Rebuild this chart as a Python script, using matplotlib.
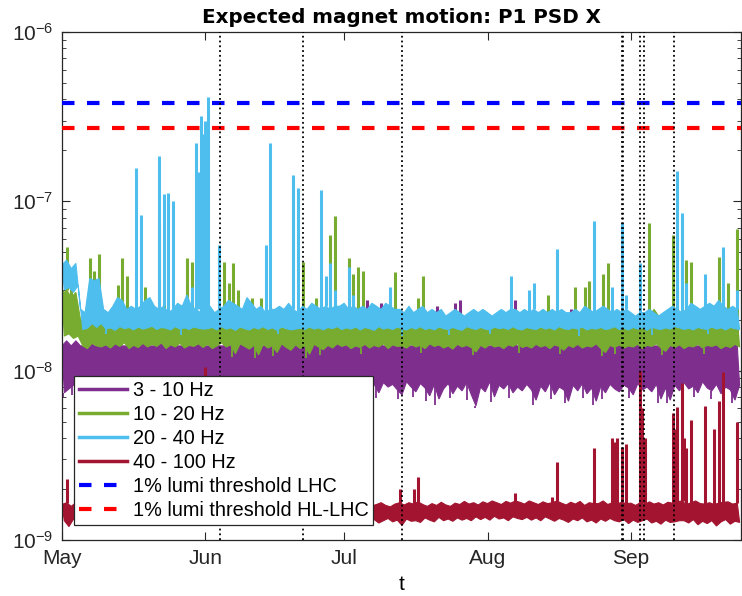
import numpy as np
import matplotlib
matplotlib.use('Agg')
import matplotlib.pyplot as plt
import matplotlib.dates as mdates
from matplotlib.lines import Line2D

plt.rcParams['font.family'] = ['Liberation Sans', 'DejaVu Sans']

# band envelope: daily top (at 00:00) and bottom (at 12:00) values, units of 1e-9
start = np.datetime64('2018-05-01T00:00')
n_days = 147

purple_top = [14, 15, 14, 15, 14, 14, 15, 14, 14, 15,
              14, 14, 15, 14, 14, 15, 14, 14, 15, 14,
              14, 15, 14, 14, 15, 14, 14, 15, 14, 14,
              15, 14, 14, 15, 14, 14, 15, 14, 15, 14,
              14, 14, 15, 14, 14, 15, 14, 14, 15, 14,
              14, 15, 14, 14, 15, 14, 14, 15, 14, 14,
              15, 14, 15, 14, 14, 15, 14, 14, 15, 14,
              14, 15, 14, 14, 15, 14, 14, 15, 14, 14,
              15, 14, 14, 14, 15, 14, 15, 14, 15, 14,
              14, 15, 14, 14, 15, 14, 14, 15, 14, 14,
              15, 14, 14, 15, 14, 14, 15, 14, 14, 15,
              14, 14, 15, 14, 14, 15, 14, 14, 15, 14,
              14, 15, 14, 14, 15, 14, 14, 15, 14, 14,
              15, 14, 14, 15, 14, 14, 15, 14, 14, 15,
              14, 14, 15, 14, 14, 15, 14]
purple_bottom = [7.4, 7.8, 8.2, 9.0, 8.5, 8.8, 8.2, 9.0, 8.6, 8.4,
                 8.8, 7.9, 8.5, 9.1, 8.3, 8.7, 8.0, 8.9, 8.4, 8.8,
                 8.2, 8.6, 9.0, 8.3, 8.7, 8.1, 8.9, 8.5, 8.2, 8.8,
                 8.4, 8.7, 8.1, 8.9, 8.5, 8.3, 8.8, 8.6, 8.0, 8.7,
                 8.5, 8.2, 8.9, 8.4, 8.7, 8.1, 8.6, 8.9, 8.3, 8.5,
                 8.8, 8.2, 8.6, 8.4, 8.9, 8.3, 8.7, 8.1, 8.6, 8.4,
                 8.2, 8.7, 8.0, 8.8, 8.4, 7.6, 8.6, 8.3, 7.4, 8.5,
                 8.0, 8.3, 7.7, 7.2, 8.6, 8.0, 7.5, 8.4, 7.9, 7.1,
                 8.3, 6.8, 7.8, 8.4, 7.3, 8.1, 7.6, 8.5, 7.2, 6.2,
                 8.0, 7.5, 8.6, 7.0, 8.2, 7.8, 8.4, 7.4, 8.0, 7.6,
                 8.3, 7.7, 6.7, 8.1, 7.5, 8.5, 7.2, 8.0, 7.7, 6.6,
                 8.2, 7.6, 8.4, 7.3, 7.9, 6.6, 8.1, 7.4, 8.3, 7.8,
                 7.5, 8.2, 7.9, 7.2, 8.4, 7.7, 8.0, 7.5, 8.3, 6.8,
                 7.9, 6.7, 8.2, 7.6, 8.5, 7.8, 8.1, 7.4, 8.6, 7.9,
                 7.6, 8.3, 7.3, 8.0, 7.7, 6.7, 8.2]

green_top = [28, 30, 27, 29, 20, 19, 21, 20, 19, 20,
             19, 20, 21, 20, 19, 20, 21, 19, 20, 20,
             21, 20, 19, 20, 19, 20, 21, 20, 19, 20,
             21, 20, 19, 20, 21, 20, 19, 21, 20, 20,
             21, 20, 20, 19, 21, 20, 19, 20, 21, 20,
             19, 20, 21, 20, 21, 20, 20, 19, 21, 20,
             21, 20, 19, 20, 21, 20, 21, 20, 19, 21,
             20, 21, 19, 20, 19, 20, 21, 20, 19, 20,
             19, 20, 21, 20, 19, 20, 21, 20, 19, 20,
             21, 20, 19, 20, 21, 20, 19, 20, 21, 20,
             19, 20, 21, 20, 19, 20, 20, 21, 20, 19,
             20, 21, 20, 19, 21, 22, 20, 21, 20, 21,
             20, 22, 20, 19, 20, 21, 20, 21, 23, 21,
             20, 19, 21, 20, 21, 20, 21, 21, 20, 22,
             21, 20, 21, 20, 21, 21, 20]
green_bottom = [16, 16.5, 15.5, 16, 14, 13.5, 14.5, 14, 13.8, 14.2,
                13.6, 14.4, 13.9, 14.6, 13.5, 14.1, 13.7, 14.5, 13.8, 14.3,
                13.9, 14.6, 13.5, 14.2, 13.8, 14.5, 13.6, 14.1, 13.9, 14.4,
                13.7, 14.3, 13.5, 14.0, 14.6, 13.8, 14.2, 12.6, 14.4, 13.9,
                13.4, 14.1, 12.4, 14.3, 13.6, 14.0, 12.8, 14.4, 13.7, 13.2,
                14.2, 13.5, 14.0, 12.5, 14.3, 13.8, 13.3, 14.1, 13.6, 14.4,
                13.9, 14.2, 13.5, 14.0, 13.7, 14.3, 13.6, 14.1, 13.8, 14.4,
                13.5, 14.2, 13.9, 14.0, 13.6, 14.3, 13.8, 14.1, 13.5, 14.4,
                13.9, 14.2, 13.6, 14.0, 13.4, 14.3, 13.8, 14.1, 13.7, 12.9,
                14.1, 13.6, 14.3, 13.8, 14.0, 13.5, 14.2, 13.9, 14.4, 13.7,
                14.0, 13.6, 14.3, 13.8, 14.1, 13.5, 14.2, 13.9, 13.2, 14.1,
                13.7, 14.3, 13.6, 14.0, 13.8, 14.4, 13.5, 12.8, 14.1, 13.7,
                14.2, 13.6, 14.0, 13.8, 14.3, 13.5, 14.1, 13.9, 14.4, 13.6,
                13.0, 14.1, 13.7, 14.2, 13.5, 14.0, 13.8, 14.3, 13.6, 14.1,
                13.9, 14.2, 13.5, 14.0, 13.7, 14.3, 13.8]

blue_top = [42, 45, 40, 43, 23, 22, 35, 34, 35, 23,
            22, 24, 27, 26, 23, 24, 23, 24, 26, 27,
            24, 23, 24, 22, 23, 25, 24, 28, 24, 23,
            22, 24, 24, 22, 23, 24, 26, 25, 24, 23,
            27, 25, 23, 24, 22, 23, 23, 24, 23, 25,
            23, 22, 24, 23, 25, 24, 23, 24, 23, 24,
            24, 25, 23, 24, 23, 24, 23, 25, 24, 23,
            25, 24, 23, 23, 22, 24, 22, 23, 24, 22,
            23, 22, 23, 21, 22, 23, 22, 21, 22, 23,
            22, 23, 22, 21, 22, 23, 22, 23, 23, 22,
            23, 22, 23, 22, 23, 22, 23, 22, 23, 22,
            22, 23, 22, 24, 23, 22, 23, 24, 23, 22,
            23, 22, 23, 22, 21, 22, 22, 23, 22, 21,
            22, 23, 24, 23, 22, 23, 25, 24, 23, 24,
            25, 24, 26, 24, 23, 24, 23]
blue_bottom = [30, 31, 29, 32, 17.5, 17.8, 19, 18, 19, 17.6,
               17.9, 17.3, 18.2, 17.7, 18.0, 17.4, 18.1, 17.6, 17.9, 18.3,
               17.5, 18.0, 17.8, 17.4, 18.2, 17.6, 17.9, 17.5, 18.1, 17.8,
               17.6, 17.7, 18.0, 17.4, 18.2, 17.6, 17.9, 17.3, 18.1, 17.7,
               17.4, 18.0, 17.6, 18.2, 17.5, 17.9, 17.3, 18.1, 17.7, 17.4,
               17.6, 17.8, 17.5, 18.1, 17.6, 17.9, 17.4, 18.0, 17.7, 18.2,
               17.5, 17.9, 17.6, 18.1, 17.4, 18.0, 17.7, 17.3, 18.2, 17.6,
               17.9, 17.5, 18.1, 17.7, 17.4, 18.0, 17.6, 18.2, 17.5, 17.8,
               17.4, 18.1, 17.7, 17.5, 18.0, 17.6, 17.3, 18.2, 17.8, 17.5,
               18.0, 17.6, 17.4, 18.1, 17.7, 17.9, 17.5, 18.2, 17.6, 17.4,
               18.0, 17.7, 17.5, 18.1, 17.6, 17.9, 17.4, 18.2, 17.7, 17.5,
               17.9, 17.6, 18.1, 17.4, 17.8, 17.6, 18.0, 17.5, 17.7, 18.2,
               17.5, 17.8, 17.4, 18.0, 17.6, 17.9, 17.3, 18.1, 17.7, 17.5,
               17.9, 17.6, 18.2, 17.9, 17.5, 17.8, 17.4, 18.0, 17.7, 17.5,
               18.1, 17.6, 17.9, 17.4, 18.0, 17.7, 17.5]

red_top = [1.62, 1.66, 1.58, 1.66, 1.60, 1.55, 1.68, 1.59, 1.63, 1.57,
           1.65, 1.60, 1.56, 1.67, 1.61, 1.58, 1.64, 1.55, 1.62, 1.66,
           1.59, 1.63, 1.57, 1.65, 1.60, 1.56, 1.68, 1.61, 1.58, 1.64,
           1.60, 1.62, 1.62, 1.57, 1.65, 1.59, 1.63, 1.56, 1.66, 1.60,
           1.58, 1.64, 1.61, 1.56, 1.67, 1.60, 1.63, 1.57, 1.65, 1.59,
           1.62, 1.58, 1.66, 1.60, 1.55, 1.64, 1.61, 1.57, 1.63, 1.59,
           1.65, 1.60, 1.56, 1.67, 1.61, 1.58, 1.64, 1.59, 1.62, 1.66,
           1.60, 1.57, 1.63, 1.66, 1.61, 1.66, 1.63, 1.68, 1.62, 1.58,
           1.64, 1.60, 1.67, 1.61, 1.58, 1.65, 1.62, 1.69, 1.63, 1.66,
           1.61, 1.68, 1.64, 1.70, 1.66, 1.62, 1.69, 1.65, 1.70, 1.67,
           1.63, 1.70, 1.66, 1.62, 1.68, 1.64, 1.66, 1.70, 1.65, 1.61,
           1.67, 1.63, 1.69, 1.60, 1.66, 1.64, 1.64, 1.70, 1.62, 1.66,
           1.63, 1.67, 1.64, 1.65, 1.60, 1.66, 1.62, 1.68, 1.63, 1.66,
           1.61, 1.67, 1.65, 1.68, 1.70, 1.62, 1.66, 1.70, 1.64, 1.63,
           1.66, 1.62, 1.65, 1.67, 1.68, 1.63, 1.65]
red_bottom = [1.30, 1.20, 1.33, 1.25, 1.31, 1.28, 1.34, 1.26, 1.32, 1.29,
              1.27, 1.33, 1.30, 1.25, 1.32, 1.28, 1.35, 1.26, 1.31, 1.29,
              1.33, 1.27, 1.30, 1.34, 1.26, 1.31, 1.28, 1.32, 1.25, 1.30,
              1.29, 1.33, 1.27, 1.31, 1.35, 1.26, 1.30, 1.28, 1.33, 1.27,
              1.31, 1.26, 1.34, 1.29, 1.32, 1.27, 1.30, 1.35, 1.28, 1.31,
              1.26, 1.33, 1.29, 1.31, 1.27, 1.34, 1.30, 1.28, 1.32, 1.26,
              1.30, 1.35, 1.28, 1.31, 1.27, 1.33, 1.29, 1.32, 1.26, 1.30,
              1.34, 1.28, 1.31, 1.22, 1.33, 1.29, 1.30, 1.27, 1.35, 1.31,
              1.28, 1.36, 1.30, 1.33, 1.29, 1.35, 1.31, 1.34, 1.30, 1.37,
              1.32, 1.36, 1.31, 1.38, 1.33, 1.35, 1.30, 1.37, 1.34, 1.32,
              1.36, 1.31, 1.35, 1.30, 1.37, 1.33, 1.29, 1.34, 1.31, 1.27,
              1.33, 1.30, 1.35, 1.28, 1.31, 1.26, 1.33, 1.29, 1.34, 1.30,
              1.28, 1.32, 1.25, 1.31, 1.27, 1.30, 1.33, 1.26, 1.29, 1.24,
              1.31, 1.27, 1.28, 1.30, 1.30, 1.26, 1.32, 1.23, 1.29, 1.25,
              1.30, 1.21, 1.28, 1.32, 1.24, 1.29, 1.27]

# short bursts above the band: (day after May 1, peak value in 1e-9)
purple_spikes = [(39, 22), (60, 24), (66, 26), (69, 25), (81, 24), (85, 25),
                 (86, 26), (98, 26), (110, 23), (146, 22)]
green_spikes = [(0, 30), (1, 54), (2, 35), (6, 46), (7, 39), (8, 49),
                (12, 32), (13, 46), (14, 36), (18, 31), (21, 76), (22, 59),
                (27, 46), (28, 44), (34, 30), (35, 44), (36, 33), (37, 43),
                (38, 30), (41, 27), (43, 27), (52, 44), (55, 27), (58, 63),
                (59, 82), (62, 46), (63, 37), (64, 41), (65, 39), (71, 29),
                (72, 38), (77, 27), (78, 36), (105, 28), (111, 31), (113, 31),
                (114, 34), (117, 37), (118, 43), (127, 74), (132, 63),
                (133, 30), (134, 45), (135, 45), (136, 44), (142, 47),
                (143, 30), (144, 33), (146, 69)]
blue_spikes = [(16, 157), (17, 83), (21, 186), (22, 110), (23, 112),
               (24, 100), (28, 31), (29, 220), (29.5, 150), (30, 320),
               (30.5, 250), (31, 300), (31.5, 415), (34, 55), (44, 55),
               (45, 220), (50, 143), (51, 120), (56, 116), (57, 36), (58, 43),
               (59, 30), (62, 41), (63, 28), (71, 31), (97, 36), (101, 30),
               (102, 33), (107, 52), (115, 77), (119, 31), (121, 74),
               (122, 28), (125, 43), (133, 152), (134, 85), (135, 33),
               (139, 37), (143, 54), (146, 30)]
red_spikes = [(1, 2.3), (31, 10.5), (73, 2.0), (76, 2.0), (77, 2.35),
              (98, 1.9), (106, 1.8), (107, 2.9), (115, 3.5), (119, 4.0),
              (119.5, 3.8), (120, 4.0), (121, 3.5), (122, 3.7), (125, 10.0),
              (125.5, 6.0), (126, 4.0), (132, 5.6), (132.5, 4.5), (133, 6.1),
              (134, 8.5), (134.5, 4.0), (135, 3.5), (136, 5.1), (139, 6.2),
              (141, 4.5), (142, 6.6), (143, 9.8), (146, 5.0)]

# short drops below the band: (day after May 1, lowest value in 1e-9)
purple_dips = [(0.3, 7.0), (2.2, 7.2), (64.7, 7.2), (67.8, 6.9), (72.6, 6.8),
               (75.8, 7.0), (78.7, 6.6), (80.6, 6.3), (83.8, 6.9), (87.6, 6.7),
               (89.3, 6.0), (92.8, 6.5), (96.6, 6.9), (101.8, 6.3),
               (105.7, 6.8), (108.8, 6.4), (112.6, 6.9), (114.8, 6.3),
               (116.7, 6.8), (122.6, 6.9), (128.8, 6.4), (130.7, 6.4),
               (136.6, 7.0), (140.3, 6.8), (144.8, 6.4)]
green_dips = [(36.8, 12.0), (41.7, 11.8), (45.6, 12.2), (52.8, 11.9),
              (55.7, 12.3), (64.6, 12.5), (77.7, 12.7), (88.8, 12.4),
              (98.7, 12.8), (107.6, 12.5), (116.8, 12.2), (119.6, 12.6),
              (129.7, 12.4), (138.8, 12.6)]
blue_dips = [(9.6, 16.5), (25.7, 16.3), (46.8, 16.4), (73.6, 16.0),
             (83.7, 16.2), (92.6, 16.5), (111.7, 16.1), (127.6, 16.3),
             (139.7, 16.4)]

band_labels = ['3 - 10 Hz', '10 - 20 Hz', '20 - 40 Hz', '40 - 100 Hz']
band_colors = ['#7E2F8E', '#77AC30', '#4DBEEE', '#A2142F']

lhc_threshold = 3.8e-7
hllhc_threshold = 2.7e-7

# dotted event markers (days after May 1)
event_days = [34.2, 52.2, 73.4, 121.1, 121.3, 125.0, 125.9, 132.3]


def to_time(days):
    return start + (np.asarray(days) * 1440).astype(int) * np.timedelta64(1, 'm')


fig = plt.figure(figsize=(7.42, 5.96), dpi=100)
ax = fig.add_axes([62 / 742, 56 / 596, 679 / 742, 508 / 596])

series = [(purple_top, purple_bottom, purple_spikes, purple_dips),
          (green_top, green_bottom, green_spikes, green_dips),
          (blue_top, blue_bottom, blue_spikes, blue_dips),
          (red_top, red_bottom, red_spikes, [])]
days = np.arange(n_days)
handles = []
for k, ((top, bottom, spikes, dips), color, label) in enumerate(
        zip(series, band_colors, band_labels)):
    z = 2 + 0.1 * k
    top = np.array(top)
    bottom = np.array(bottom)
    x = np.concatenate([to_time(days), to_time(days + 0.5)[::-1]])
    y = np.concatenate([top, bottom[::-1]]) * 1e-9
    ax.fill(x, y, facecolor=color, edgecolor=color, lw=0.8, zorder=z)

    sd = np.array([s[0] for s in spikes])
    sv = np.array([s[1] for s in spikes])
    ax.vlines(to_time(sd), top[np.floor(sd).astype(int)] * 1e-9, sv * 1e-9,
              color=color, lw=2.2, zorder=z)
    if dips:
        dd = np.array([s[0] for s in dips])
        dv = np.array([s[1] for s in dips])
        ax.vlines(to_time(dd), bottom[np.floor(dd).astype(int)] * 1e-9,
                  dv * 1e-9, color=color, lw=1.3, zorder=z)
    handles.append(Line2D([], [], color=color, lw=2.5, label=label))

h1 = ax.axhline(lhc_threshold, color='#0000FF', lw=3, dashes=(3, 3),
                label='1% lumi threshold LHC', zorder=3)
h2 = ax.axhline(hllhc_threshold, color='#FF0000', lw=3, dashes=(3, 3),
                label='1% lumi threshold HL-LHC', zorder=3)
handles += [h1, h2]

for d in event_days:
    ax.axvline(to_time(d), color='k', ls=':', lw=1.3, zorder=4)

ax.set_yscale('log')
ax.set_ylim(1e-9, 1e-6)
ax.set_xlim(start, to_time(146.8))
ax.xaxis.set_major_locator(mdates.MonthLocator())
ax.xaxis.set_major_formatter(mdates.DateFormatter('%b'))
ax.xaxis.get_offset_text().set_visible(False)
ax.yaxis.get_offset_text().set_visible(False)

ax.tick_params(which='both', direction='in', top=True, right=True,
               colors='#262626', labelsize=15)
ax.tick_params(which='major', length=6, width=0.8)
ax.tick_params(which='minor', length=3, width=0.6)
ax.tick_params(axis='y', pad=6.5)
ax.tick_params(axis='x', pad=6.5)
for s in ax.spines.values():
    s.set_color('#262626')
    s.set_linewidth(0.9)

ax.set_title('Expected magnet motion: P1 PSD X', fontsize=14.3,
             fontweight='bold', family='DejaVu Sans', pad=6.5)
ax.set_xlabel('t', fontsize=15, labelpad=5)

leg = ax.legend(handles=handles, loc='lower left',
                bbox_to_anchor=(12 / 679, 15 / 508), borderaxespad=0,
                fontsize=14.3, fancybox=False, framealpha=1,
                edgecolor='#262626', handlelength=2.4, handletextpad=0.3,
                labelspacing=0.25, borderpad=0.25)
leg.get_frame().set_linewidth(0.9)
leg.set_zorder(10)

fig.savefig('out.png', dpi=100)
